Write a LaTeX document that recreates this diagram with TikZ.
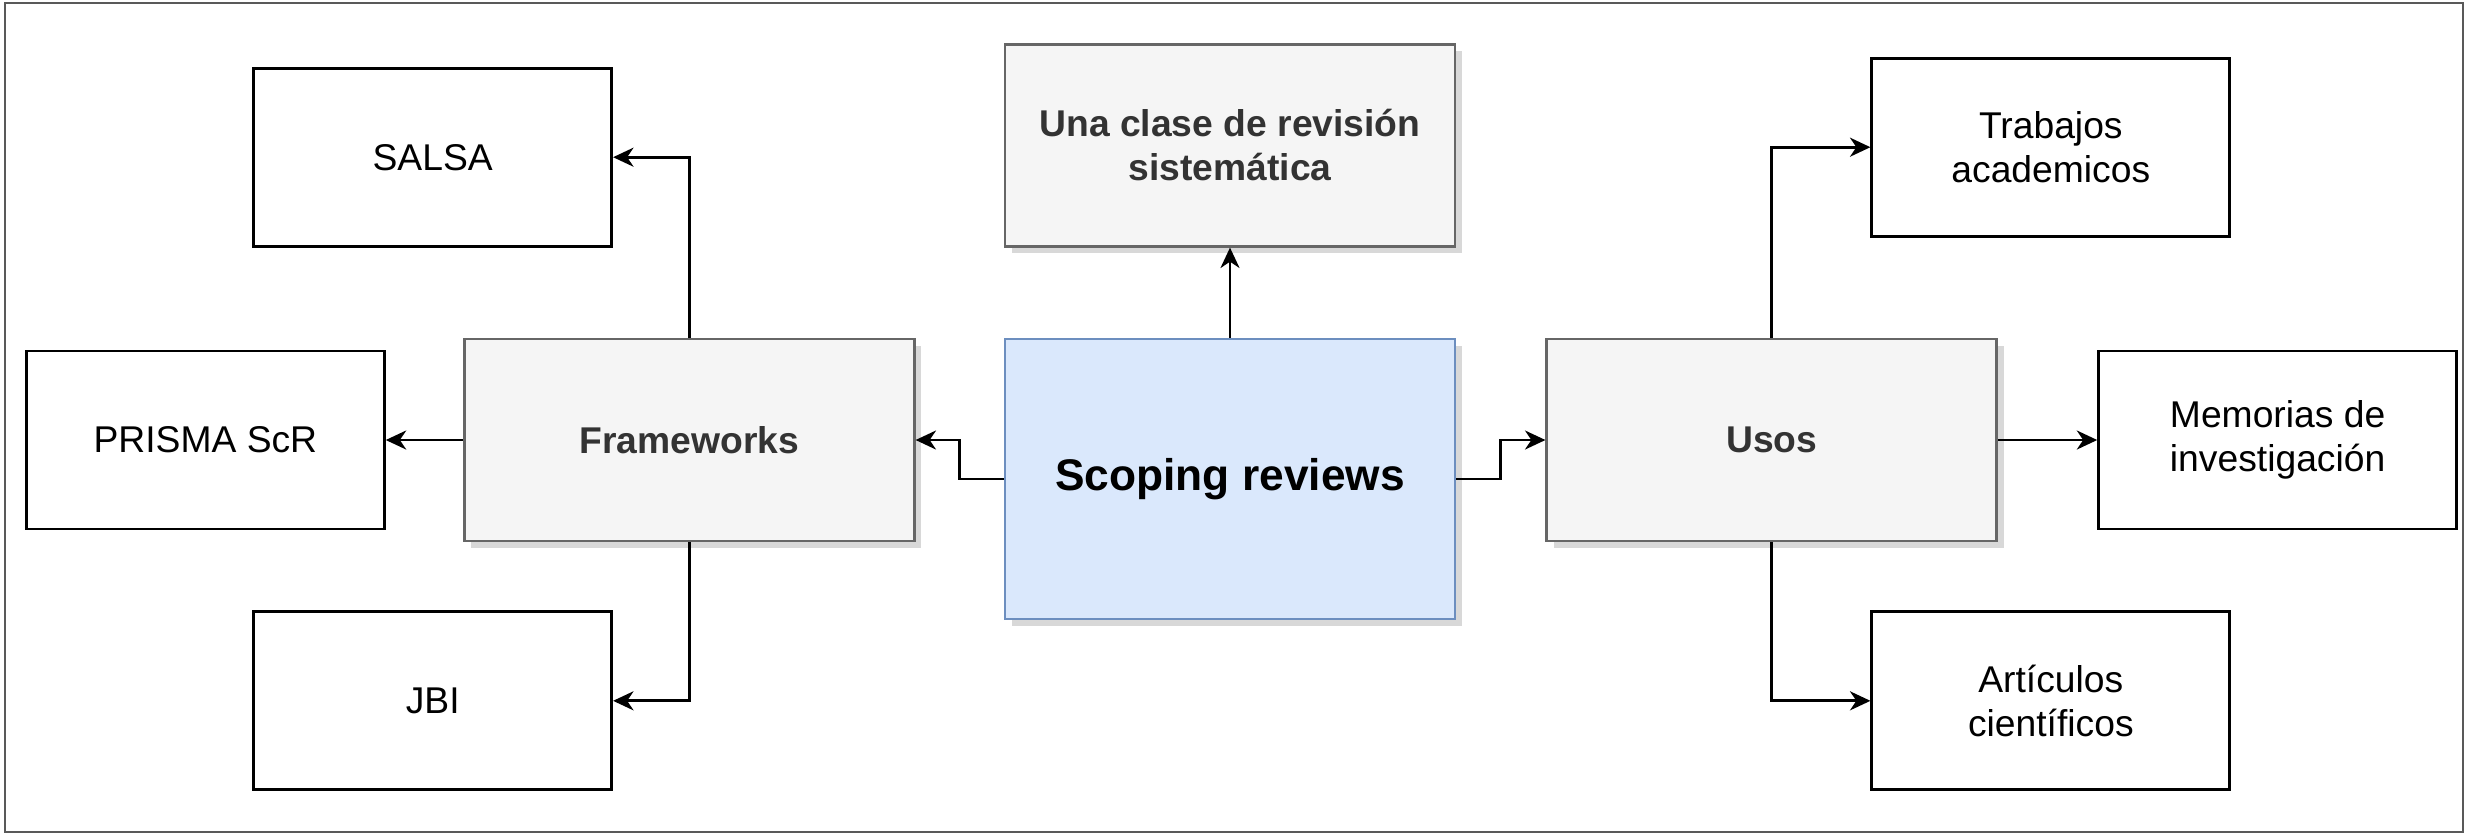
\documentclass[tikz,border=0pt]{standalone}
\usepackage{fontspec}
\setmainfont{Liberation Sans}
\usetikzlibrary{
  shadows,
  arrows.meta,
  positioning
}
\definecolor{blueFill}{HTML}{DAE8FC}
\definecolor{blueLine}{HTML}{6C8EBF}
\definecolor{greyFill}{HTML}{F5F5F5}
\definecolor{greyLine}{HTML}{666666}
\definecolor{greyText}{HTML}{333333}

\begin{document}
\begin{tikzpicture}[node distance = 1cm,
    leaf/.style={rectangle,draw=black,line width=0.8pt,fill=white,
      minimum width=3.58cm,minimum height=1.78cm,align=center,
      font=\fontsize{10.6}{12.6}\selectfont},
    greybox/.style={rectangle,draw=greyLine,line width=0.8pt,fill=greyFill,
      text=greyText,minimum width=4.5cm,minimum height=2.02cm,align=center,
      font=\fontsize{10.6}{12.6}\selectfont\bfseries,
      drop shadow={shadow xshift=0.07cm,shadow yshift=-0.07cm,fill=black!30}},
    mainbox/.style={greybox,draw=blueLine,fill=blueFill,text=black,
      minimum height=2.8cm,font=\fontsize{12.6}{15}\selectfont\bfseries},
    link/.style={-{Stealth[length=5.8pt,width=5.4pt,inset=1.8pt]},line width=0.8pt}
  ]
    \useasboundingbox (0,0) rectangle (24.71,-8.36);
    \draw[black!65,line width=0.6pt] (0.05,-0.03) rectangle (24.63,-8.32);

    \node[mainbox] (scoping) at (12.30,-4.79) {Scoping reviews};
    \node[greybox,above = 0.9cm of scoping] (clase) {Una clase de revisión\\sistemática};
    \node[greybox,left = 0.88cm of scoping,yshift=0.39cm] (frameworks) {Frameworks};
    \node[greybox,right = 0.89cm of scoping,yshift=0.39cm] (usos) {Usos};
    \node[leaf,above = 0.9cm of frameworks,xshift=-2.565cm] (salsa) {SALSA};
    \node[leaf,left = 0.77cm of frameworks] (prisma) {PRISMA ScR};
    \node[leaf,below = 0.68cm of frameworks,xshift=-2.565cm] (jbi) {JBI};
    \node[leaf,above = 1.0cm of usos,xshift=2.79cm] (trabajos) {Trabajos\\academicos};
    \node[leaf,right = 0.99cm of usos] (memorias) {Memorias de\\investigación};
    \node[leaf,below = 0.68cm of usos,xshift=2.79cm] (articulos) {Artículos\\científicos};

    \draw[link] (scoping.north) -- (clase.south);
    \draw[link] (scoping.west) -- ++(-0.44,0) |- (frameworks.east);
    \draw[link] (scoping.east) -- ++(0.44,0) |- (usos.west);
    \draw[link] (frameworks.north) |- (salsa.east);
    \draw[link] (frameworks.west) -- (prisma.east);
    \draw[link] (frameworks.south) |- (jbi.east);
    \draw[link] (usos.north) |- (trabajos.west);
    \draw[link] (usos.east) -- (memorias.west);
    \draw[link] (usos.south) |- (articulos.west);
  \end{tikzpicture}
\end{document}
